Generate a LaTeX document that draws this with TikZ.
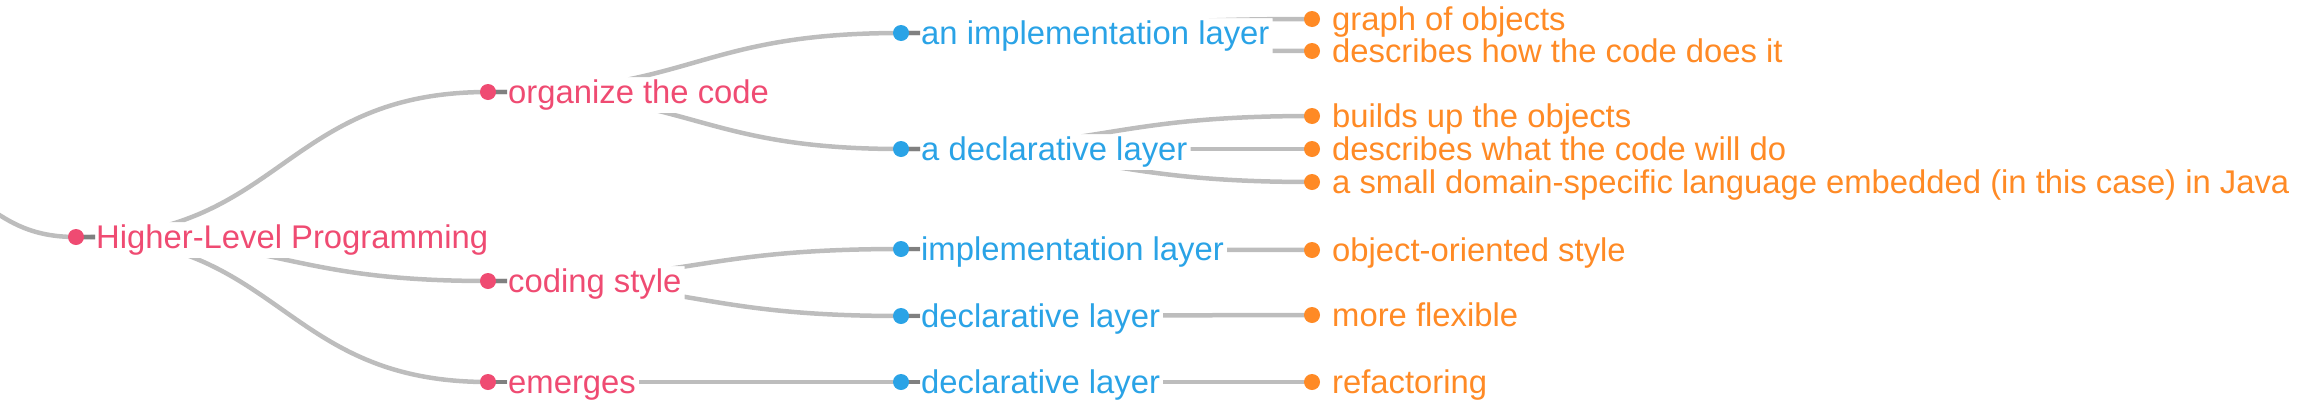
\documentclass[tikz,border=0pt]{standalone}
\usepackage{fontspec}
\setmainfont{Liberation Sans}
\usetikzlibrary{calc}
\definecolor{pinkc}{HTML}{EF4B72}
\definecolor{bluec}{HTML}{2AA3E6}
\definecolor{orangec}{HTML}{FF8A25}
\definecolor{linkc}{HTML}{BDBDBD}
\definecolor{stubc}{HTML}{808080}
\pgfdeclarelayer{bg}
\pgfsetlayers{bg,main}
\tikzset{
  dotnode/.style={circle, inner sep=0pt, minimum size=16pt, fill=#1},
  txt/.style={anchor=base west, inner sep=0pt, text=#1, font=\fontsize{32.8}{38}\selectfont},
  linkline/.style={draw=linkc, line width=4.5pt},
  stubline/.style={draw=stubc, line width=4.5pt},
}
\newcommand\lnk[2]{\draw[linkline] let \p1=(#1.center), \p2=(#2.center) in (#1.center) .. controls ({(\x1+\x2)/2},\y1) and ({(\x1+\x2)/2},\y2) .. (#2.center);}
\newcommand\stub[1]{\draw[stubline] (#1.center) -- ++(19pt,0);}
\newcommand\mnode[5]{% name, colour, x, y, text
  \node[dotnode=#2] (#1) at (#3,#4) {};
  \node[txt=#2] (#1T) at ($(#1.center)+(20pt,-11pt)$) {#5};
}
\begin{document}
\begin{tikzpicture}[x=1pt,y=-1pt]
\useasboundingbox (0,0) rectangle (2316,416);
\coordinate (p0) at (-100,178);
\mnode{root}{pinkc}{76}{237}{Higher-Level Programming}
\mnode{org}{pinkc}{488}{92}{organize the code}
\mnode{cod}{pinkc}{488}{281}{coding style}
\mnode{eme}{pinkc}{488}{382}{emerges}
\mnode{ail}{bluec}{901}{33}{an implementation layer}
\mnode{adl}{bluec}{901}{149}{a declarative layer}
\mnode{il}{bluec}{901}{249}{implementation layer}
\mnode{dla}{bluec}{901}{316}{declarative layer}
\mnode{dlb}{bluec}{901}{382}{declarative layer}
\mnode{goo}{orangec}{1312}{19}{graph of objects}
\mnode{dhow}{orangec}{1312}{51}{describes how the code does it}
\mnode{bu}{orangec}{1312}{116}{builds up the objects}
\mnode{dwhat}{orangec}{1312}{149}{describes what the code will do}
\mnode{small}{orangec}{1312}{182}{a small domain-specific language embedded (in this case) in Java}
\mnode{oos}{orangec}{1312}{250}{object-oriented style}
\mnode{mf}{orangec}{1312}{315}{more flexible}
\mnode{ref}{orangec}{1312}{382}{refactoring}
\begin{pgfonlayer}{bg}
\begin{scope}
\clip (-200,-100) rectangle (2500,500)
  foreach \n in {root,org,cod,eme,ail,adl,il,dla,dlb} {
    ($(\n T.north east)+(3pt,2pt)$) rectangle ($(\n T.south west)+(-1pt,-3pt)$)
  };
\draw[linkline] (p0) .. controls (-12,178) and (-12,237) .. (root.center);
\lnk{root}{org}\lnk{root}{cod}\lnk{root}{eme}
\lnk{org}{ail}\lnk{org}{adl}
\lnk{cod}{il}\lnk{cod}{dla}
\lnk{eme}{dlb}
\lnk{ail}{goo}\lnk{ail}{dhow}
\lnk{adl}{bu}\lnk{adl}{dwhat}\lnk{adl}{small}
\lnk{il}{oos}\lnk{dla}{mf}\lnk{dlb}{ref}
\end{scope}
\stub{root}\stub{org}\stub{cod}\stub{eme}
\stub{ail}\stub{adl}\stub{il}\stub{dla}\stub{dlb}
\end{pgfonlayer}
\end{tikzpicture}
\end{document}
